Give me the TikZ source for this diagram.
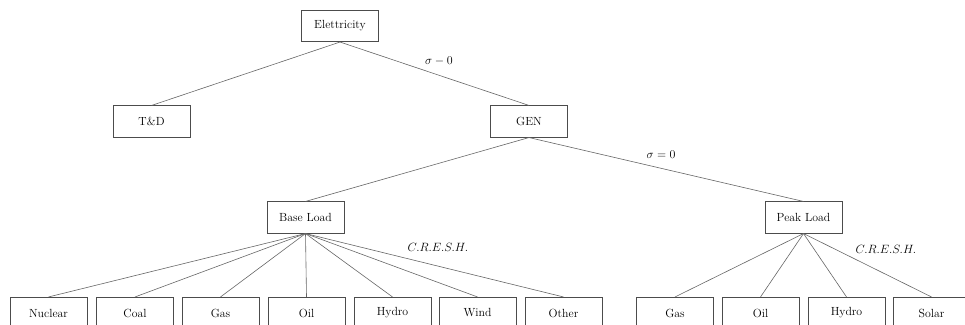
\documentclass[tikz,border=0pt]{standalone}
\begin{document}
\begin{tikzpicture}[x=1pt,y=-1pt,
  box/.style={draw=black!70,line width=0.6pt,minimum width=77pt,minimum height=31.5pt,inner sep=0pt,font=\fontsize{11.8}{14}\selectfont},
  edge/.style={draw=black!60,line width=0.6pt},
  lab/.style={inner sep=0pt,font=\fontsize{11.8}{14}\selectfont}]
\useasboundingbox (0,0) rectangle (965,324);
\node[box] (E) at (340,26) {Elettricity};
\node[box] (TD) at (151.5,121.5) {T\&D};
\node[box] (GEN) at (529,121.5) {GEN};
\node[box] (BL) at (305.5,217.5) {Base Load};
\node[box] (PL) at (803.5,217.5) {Peak Load};
\node[box] (b1) at (48.5,313) {Nuclear};
\node[box] (b2) at (135,313) {Coal};
\node[box] (b3) at (220.5,313) {Gas};
\node[box] (b4) at (306.5,313) {Oil};
\node[box] (b5) at (392.5,313) {Hydro};
\node[box] (b6) at (477.5,313) {Wind};
\node[box] (b7) at (563.5,313) {Other};
\node[box] (p1) at (675,313) {Gas};
\node[box] (p2) at (760.5,313) {Oil};
\node[box] (p3) at (846.5,313) {Hydro};
\node[box] (p4) at (931.5,313) {Solar};
\draw[edge] (E.south) -- (TD.north);
\draw[edge] (E.south) -- (GEN.north);
\draw[edge] (GEN.south) -- (BL.north);
\draw[edge] (GEN.south) -- (PL.north);
\foreach \n in {b1,b2,b3,b4,b5,b6,b7} \draw[edge] (BL.south) -- (\n.north);
\foreach \n in {p1,p2,p3,p4} \draw[edge] (PL.south) -- (\n.north);
\node[lab] (l1) at (439,61) {$\sigma - 0$};
\node[lab] (l2) at (661,155) {$\sigma = 0$};
\node[lab] (l3) at (438,247) {$C.R.E.S.H.$};
\node[lab] (l4) at (886,249) {$C.R.E.S.H.$};
\end{tikzpicture}
\end{document}
